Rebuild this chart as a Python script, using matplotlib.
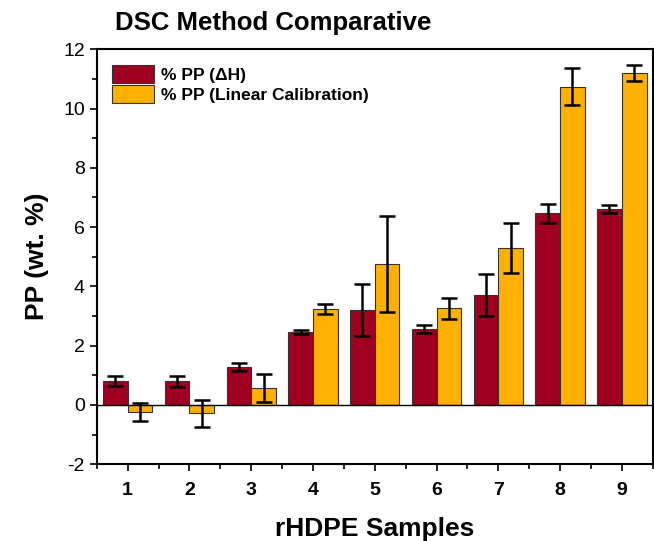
import numpy as np
import matplotlib
matplotlib.use("Agg")
import matplotlib.pyplot as plt
from matplotlib.ticker import MultipleLocator

plt.rcParams["font.family"] = ["Liberation Sans", "DejaVu Sans"]
plt.rcParams["axes.unicode_minus"] = False

# ── data ──────────────────────────────────────────────────────────────────────
samples    = ["1", "2", "3", "4", "5", "6", "7", "8", "9"]
pp_dh      = [0.81, 0.79, 1.28, 2.46, 3.20, 2.56, 3.71, 6.46, 6.60]
pp_dh_err  = [0.17, 0.20, 0.12, 0.08, 0.89, 0.13, 0.71, 0.31, 0.14]
pp_lin     = [-0.25, -0.29, 0.56, 3.24, 4.74, 3.26, 5.29, 10.74, 11.20]
pp_lin_err = [0.30, 0.44, 0.47, 0.17, 1.62, 0.35, 0.85, 0.61, 0.27]

RED    = "#A0001F"
ORANGE = "#FFB000"
EDGE   = "#333333"

fig = plt.figure(figsize=(6.54, 5.41), dpi=100)
ax = fig.add_axes([0.148, 0.142, 0.850, 0.767])

x = np.arange(1, len(samples) + 1)
w = 0.4
err_kw = dict(ecolor="black", elinewidth=1.8, capsize=6, capthick=1.8)

ax.bar(x - w / 2, pp_dh, w, yerr=pp_dh_err, color=RED, edgecolor=EDGE,
       linewidth=0.8, error_kw=err_kw, label="% PP (\u0394H)")
ax.bar(x + w / 2, pp_lin, w, yerr=pp_lin_err, color=ORANGE, edgecolor=EDGE,
       linewidth=0.8, error_kw=err_kw, label="% PP (Linear Calibration)")
ax.axhline(0, color="black", linewidth=1.0)

ax.set_xlim(0.5, 9.5)
ax.set_ylim(-2, 12)
ax.set_xticks(x)
ax.set_xticklabels(samples, fontweight="bold")
ax.xaxis.set_minor_locator(MultipleLocator(0.5))
ax.yaxis.set_major_locator(MultipleLocator(2))
ax.yaxis.set_minor_locator(MultipleLocator(1))
ax.tick_params(axis="both", which="major", direction="out", length=5,
               width=1.2, labelsize=14)
ax.tick_params(axis="x", which="major", pad=8)
ax.tick_params(axis="both", which="minor", direction="out", length=3.5, width=1.2)
for s in ax.spines.values():
    s.set_linewidth(1.5)

ax.set_ylabel("PP (wt. %)", fontsize=19, fontweight="bold", labelpad=10)
ax.set_xlabel("rHDPE Samples", fontsize=19, fontweight="bold", labelpad=13)
fig.text(0.176, 0.945, "DSC Method Comparative", fontsize=18.5,
         fontweight="bold", ha="left", va="baseline")

leg = ax.legend(loc="upper left", frameon=False,
                prop={"weight": "bold", "size": 12.5},
                handlelength=2.4, handleheight=1.25, borderaxespad=0.5,
                labelspacing=0.1, handletextpad=0.4)

fig.savefig("out.png", dpi=100)
